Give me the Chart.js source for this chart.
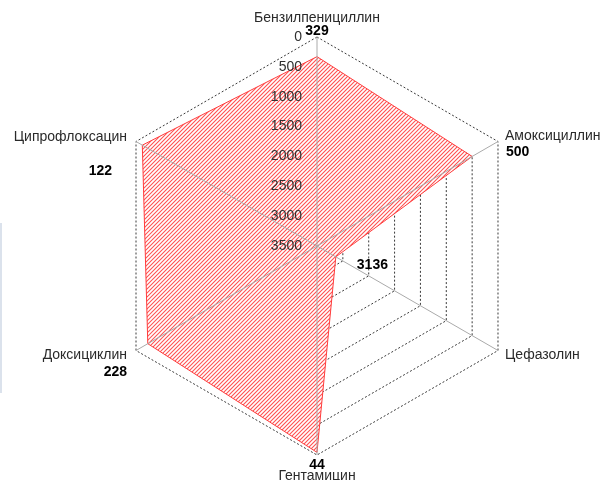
<!DOCTYPE html>
<html>
<head>
<meta charset="utf-8">
<script src="https://cdn.jsdelivr.net/npm/chart.js@4.4.0/dist/chart.umd.min.js"></script>
<style>
    body { margin: 0; background: #fff; }
    #wrap { position: relative; width: 602px; height: 480px; }
    #edge { position: absolute; left: 0; top: 223px; width: 2px; height: 170px; background: #dbe2ec; }
</style>
</head>
<body>
<div id="wrap">
    <canvas id="radarChart" width="602" height="480"></canvas>
    <div id="edge"></div>
</div>
<script>
//################# Data #################
const drugs = ['Бензилпенициллин', 'Амоксициллин', 'Цефазолин', 'Гентамицин', 'Доксициклин', 'Ципрофлоксацин'];
const counts = [329, 500, 3136, 44, 228, 122];
const tickValues = [0, 500, 1000, 1500, 2000, 2500, 3000, 3500];

// label placement relative to the outer vertex (or the data point for 'pt')
const nameOffsets = [[0, -19, 'center'], [7, -5, 'left'], [7, 5, 'left'], [0, 21, 'center'], [-9, 5, 'right'], [-9, -4, 'right']];
const valueOffsets = [[0, -6, 'center'], [8, 11, 'left'], [21, 8, 'left', 'pt'], [0, 10, 'center'], [-9, 22, 'right'], [-24, 30, 'right']];

//################# Plugin: red hatch inside the series polygon #################
const hatchPlugin = {
    id: 'hatchPlugin',
    beforeDatasetsDraw(chart) {
        const ctx = chart.ctx;
        const pts = chart.getDatasetMeta(0).data;
        ctx.save();
        ctx.beginPath();
        pts.forEach((p, i) => (i === 0 ? ctx.moveTo(p.x, p.y) : ctx.lineTo(p.x, p.y)));
        ctx.closePath();
        ctx.fillStyle = '#ffffff';
        ctx.fill();
        ctx.clip();
        ctx.strokeStyle = '#ff5252';
        ctx.lineWidth = 1.1;
        ctx.beginPath();
        const w = chart.width, h = chart.height;
        for (let c = 0; c < w + h; c += 4) {
            ctx.moveTo(c, 0);
            ctx.lineTo(c - h, h);
        }
        ctx.stroke();
        ctx.restore();
    }
};

//################# Plugin: spokes on top, tick labels, names, values #################
const labelPlugin = {
    id: 'labelPlugin',
    afterDatasetsDraw(chart) {
        const ctx = chart.ctx;
        const r = chart.scales.r;
        const outer = r.getDistanceFromCenterForValue(r.min);
        const meta = chart.getDatasetMeta(0);
        ctx.save();

        ctx.strokeStyle = '#aaaaaa';
        ctx.lineWidth = 1;
        drugs.forEach((d, i) => {
            const p = r.getPointPosition(i, outer);
            ctx.beginPath();
            ctx.moveTo(r.xCenter, r.yCenter);
            ctx.lineTo(p.x, p.y);
            ctx.stroke();
        });

        ctx.font = '14px "Liberation Sans", Arial, sans-serif';
        ctx.fillStyle = '#303030';
        ctx.textAlign = 'right';
        ctx.textBaseline = 'middle';
        tickValues.forEach(v => {
            const d = r.getDistanceFromCenterForValue(v);
            ctx.fillText(String(v), r.xCenter - 15, r.yCenter - d);
        });

        ctx.fillStyle = '#2a2a2a';
        drugs.forEach((name, i) => {
            const p = r.getPointPosition(i, outer);
            const [dx, dy, align] = nameOffsets[i];
            ctx.textAlign = align;
            ctx.fillText(name, p.x + dx, p.y + dy);
        });

        ctx.font = 'bold 14px "Liberation Sans", Arial, sans-serif';
        ctx.fillStyle = '#000000';
        counts.forEach((v, i) => {
            const [dx, dy, align, anchor] = valueOffsets[i];
            const p = anchor === 'pt' ? meta.data[i] : r.getPointPosition(i, outer);
            ctx.textAlign = align;
            ctx.fillText(String(v), p.x + dx, p.y + dy);
        });

        ctx.restore();
    }
};

//################# Chart #################
const radarChart = new Chart(document.getElementById('radarChart'), {
    type: 'radar',
    data: {
        labels: drugs,
        datasets: [
            {
                label: 'Количество',
                data: counts,
                backgroundColor: 'rgba(0, 0, 0, 0)',
                borderColor: '#ff3c3c',
                borderWidth: 1,
                pointRadius: 0,
                fill: false,
            },
        ],
    },
    options: {
        responsive: false,
        animation: false,
        layout: {
            padding: { left: 108, right: 76, top: 37, bottom: 25 },
        },
        plugins: {
            legend: { display: false },
            tooltip: { enabled: false },
        },
        scales: {
            r: {
                reverse: true,
                min: tickValues[0],
                max: tickValues[tickValues.length - 1],
                ticks: { stepSize: tickValues[1] - tickValues[0], display: false },
                pointLabels: { display: false },
                angleLines: { display: false },
                grid: { color: '#3a3a3a', lineWidth: 1 },
                border: { dash: [2, 2] },
            },
        },
    },
    plugins: [hatchPlugin, labelPlugin],
});
</script>
</body>
</html>
